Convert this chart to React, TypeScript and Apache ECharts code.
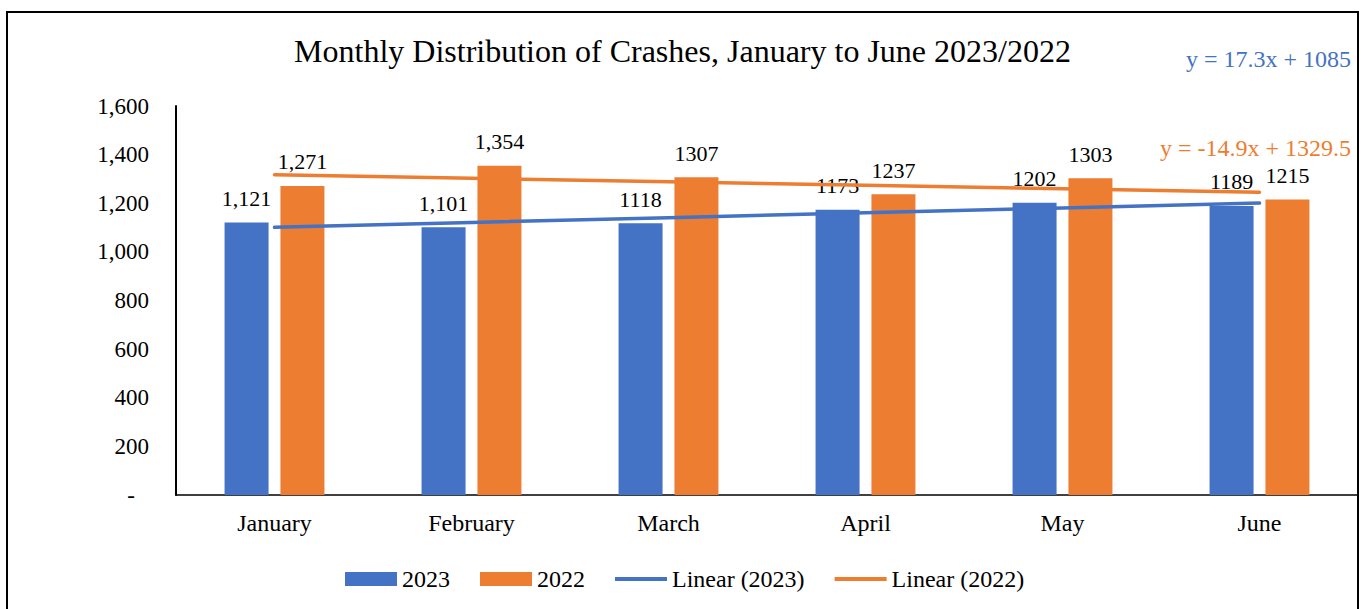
import React, { useEffect, useRef } from "react";
import * as echarts from "echarts";

const FONT = '"Liberation Serif", "Times New Roman", serif';

const categories = ["January", "February", "March", "April", "May", "June"];
const values2023 = [1121, 1101, 1118, 1173, 1202, 1189];
const values2022 = [1271, 1354, 1307, 1237, 1303, 1215];
const labels2023 = ["1,121", "1,101", "1118", "1173", "1202", "1189"];
const labels2022 = ["1,271", "1,354", "1307", "1237", "1303", "1215"];
const seriesNames = ["2023", "2022", "Linear (2023)", "Linear (2022)"];
const trendEquations = ["y = 17.3x + 1085", "y = -14.9x + 1329.5"];
const yMin = 0;
const yMax = 1600;
const yInterval = 200;

const BLUE = "#4472C4";
const ORANGE = "#ED7D31";

// least-squares linear trendline through the series values (x = 1..n)
function linearTrend(values: number[]): number[] {
  const n = values.length;
  const xs = values.map((_, i) => i + 1);
  const mx = xs.reduce((a, b) => a + b, 0) / n;
  const my = values.reduce((a, b) => a + b, 0) / n;
  let sxy = 0;
  let sxx = 0;
  for (let i = 0; i < n; i++) {
    sxy += (xs[i] - mx) * (values[i] - my);
    sxx += (xs[i] - mx) * (xs[i] - mx);
  }
  const slope = sxy / sxx;
  const intercept = my - slope * mx;
  return xs.map((x) => slope * x + intercept);
}

export default function App() {
  const ref = useRef<HTMLDivElement>(null);

  useEffect(() => {
    const chart = echarts.init(ref.current!, null, { renderer: "svg" });
    const labelStyle = {
      show: true,
      position: "top" as const,
      distance: 13,
      fontFamily: FONT,
      fontSize: 22,
      color: "#000",
    };
    const option: any = {
      animation: false,
      backgroundColor: "#fff",
      title: {
        text: "Monthly Distribution of Crashes, January to June 2023/2022",
        left: "center",
        top: 30,
        textStyle: { fontFamily: FONT, fontSize: 32, fontWeight: "normal", color: "#000" },
      },
      legend: {
        data: [
          { name: seriesNames[0], icon: "rect" },
          { name: seriesNames[1], icon: "rect" },
          { name: seriesNames[2], icon: "path://M0,0L52,0L52,4L0,4Z" },
          { name: seriesNames[3], icon: "path://M0,0L52,0L52,4L0,4Z" },
        ],
        left: 340,
        top: 562,
        itemWidth: 52,
        itemHeight: 14,
        itemGap: 30,
        textStyle: { fontFamily: FONT, fontSize: 24, color: "#000" },
      },
      grid: { left: 176, right: 7, top: 106, bottom: 114, containLabel: false },
      xAxis: {
        type: "category",
        data: categories,
        axisLine: { lineStyle: { color: "#000", width: 1.5 } },
        axisTick: { show: false },
        axisLabel: { fontFamily: FONT, fontSize: 24, color: "#000", margin: 16 },
      },
      yAxis: {
        type: "value",
        min: yMin,
        max: yMax,
        interval: yInterval,
        axisLine: { show: true, lineStyle: { color: "#000", width: 2 } },
        axisTick: { show: false },
        splitLine: { show: false },
        axisLabel: {
          fontFamily: FONT,
          fontSize: 23,
          color: "#000",
          margin: 27,
          formatter: (v: number) =>
            v === 0 ? "{d|-}" : v.toLocaleString("en-US"),
          rich: { d: { fontFamily: FONT, fontSize: 23, color: "#000", padding: [0, 14, 0, 0] } },
        },
      },
      series: [
        {
          name: seriesNames[0],
          type: "bar",
          data: values2023,
          barWidth: 44,
          barGap: "27%",
          itemStyle: { color: BLUE },
          label: { ...labelStyle, formatter: (p: any) => labels2023[p.dataIndex] },
        },
        {
          name: seriesNames[1],
          type: "bar",
          data: values2022,
          barWidth: 44,
          itemStyle: { color: ORANGE },
          label: { ...labelStyle, formatter: (p: any) => labels2022[p.dataIndex] },
        },
        {
          name: seriesNames[2],
          type: "line",
          data: linearTrend(values2023),
          symbol: "none",
          itemStyle: { color: BLUE },
          lineStyle: { color: BLUE, width: 3.5, cap: "round" },
          z: 5,
        },
        {
          name: seriesNames[3],
          type: "line",
          data: linearTrend(values2022),
          symbol: "none",
          itemStyle: { color: ORANGE },
          lineStyle: { color: ORANGE, width: 3.5, cap: "round" },
          z: 5,
        },
      ],
      graphic: [
        {
          type: "rect",
          shape: { x: 7, y: 12, width: 1351, height: 700 },
          style: { fill: "none", stroke: "#000", lineWidth: 2 },
          silent: true,
          z: -1,
        },
        {
          type: "text",
          x: 1351,
          y: 59,
          style: {
            text: trendEquations[0],
            fontFamily: FONT,
            fontSize: 24,
            fill: BLUE,
            textAlign: "right",
            textVerticalAlign: "middle",
          },
        },
        {
          type: "text",
          x: 1351,
          y: 148,
          style: {
            text: trendEquations[1],
            fontFamily: FONT,
            fontSize: 24,
            fill: ORANGE,
            textAlign: "right",
            textVerticalAlign: "middle",
          },
        },
      ],
    };
    chart.setOption(option);
    return () => chart.dispose();
  }, []);

  return (
    <div
      ref={ref}
      style={{ position: "absolute", left: 0, top: 0, width: 1365, height: 609 }}
    />
  );
}
